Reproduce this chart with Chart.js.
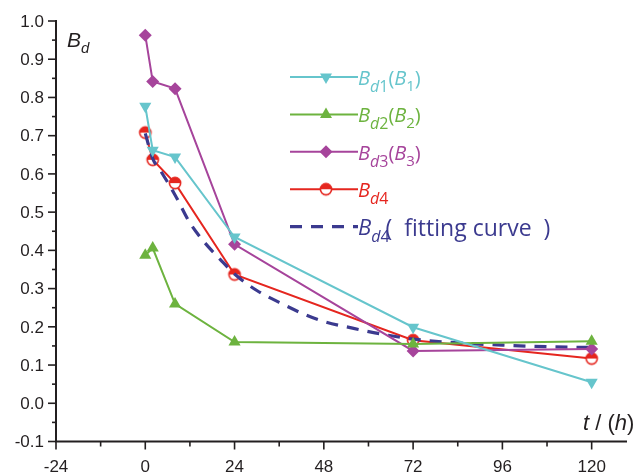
<!DOCTYPE html>
<html>
<head>
<meta charset="utf-8">
<script src="https://cdn.jsdelivr.net/npm/chart.js@4/dist/chart.umd.min.js"></script>
<style>
  html, body { margin: 0; padding: 0; background: #fff; }
  canvas { display: block; }
</style>
</head>
<body>
<canvas id="bdChart" width="638" height="473"></canvas>
<script>
const hours = [0, 2, 8, 24, 72, 120];
const bd1 = [0.777, 0.662, 0.644, 0.435, 0.199, 0.055];
const bd2 = [0.387, 0.406, 0.26, 0.16, 0.155, 0.162];
const bd3 = [0.963, 0.842, 0.823, 0.416, 0.137, 0.142];
const bd4 = [0.708, 0.637, 0.576, 0.337, 0.165, 0.117];

// fitting curve for Bd4
const fitHours = [0, 2, 4, 8, 12, 16, 20, 24, 30, 36, 42, 48, 56, 64, 72, 84, 96, 108, 120];
const fitValues = [0.706, 0.64, 0.61, 0.545, 0.472, 0.42, 0.378, 0.338, 0.295, 0.264, 0.236,
  0.214, 0.196, 0.18, 0.168, 0.158, 0.152, 0.148, 0.146];

const xTicks = [-24, 0, 24, 48, 72, 96, 120];
const yTicks = [-0.1, 0.0, 0.1, 0.2, 0.3, 0.4, 0.5, 0.6, 0.7, 0.8, 0.9, 1.0];

const cyan = "#66c5cc";
const green = "#6db33f";
const magenta = "#a6449b";
const red = "#e5261f";
const navy = "#3b3a8f";
const ink = "#231f20";

function pts(xs, ys) {
  return xs.map((x, i) => ({ x: x, y: ys[i] }));
}

// half filled circle used for Bd4
function halfCircle(r, color) {
  const c = document.createElement("canvas");
  c.width = c.height = Math.ceil(r * 2 + 4);
  const g = c.getContext("2d");
  const m = c.width / 2;
  g.fillStyle = "#fff";
  g.beginPath(); g.arc(m, m, r, 0, Math.PI * 2); g.fill();
  g.fillStyle = color;
  g.beginPath(); g.arc(m, m, r, Math.PI, Math.PI * 2); g.closePath(); g.fill();
  g.strokeStyle = color; g.lineWidth = 1.6;
  g.beginPath(); g.arc(m, m, r, 0, Math.PI * 2); g.stroke();
  return c;
}
const redMarker = halfCircle(5.6, red);

function drawMarker(ctx, kind, x, y, color) {
  ctx.save();
  ctx.fillStyle = color;
  ctx.beginPath();
  if (kind === "down") {
    ctx.moveTo(x - 6, y - 3.5); ctx.lineTo(x + 6, y - 3.5); ctx.lineTo(x, y + 7);
  } else if (kind === "up") {
    ctx.moveTo(x - 6, y + 3.5); ctx.lineTo(x + 6, y + 3.5); ctx.lineTo(x, y - 7);
  } else if (kind === "diamond") {
    ctx.moveTo(x - 6.5, y); ctx.lineTo(x, y - 6.5); ctx.lineTo(x + 6.5, y); ctx.lineTo(x, y + 6.5);
  }
  ctx.closePath();
  ctx.fill();
  if (kind === "half") ctx.drawImage(redMarker, x - redMarker.width / 2, y - redMarker.height / 2);
  ctx.restore();
}

// draws text made of pieces (italic / subscript)
function richText(ctx, parts, x, y, color) {
  ctx.save();
  ctx.fillStyle = color;
  ctx.textBaseline = "alphabetic";
  ctx.textAlign = "left";
  parts.forEach(p => {
    ctx.font = (p.it ? "italic " : "") + p.size + "px " + p.family;
    if (p.dx) x += p.dx;
    ctx.fillText(p.t, x, y + (p.dy || 0));
    x += ctx.measureText(p.t).width;
  });
  ctx.restore();
}

const LF = "'Open Sans'";
function legendParts(n, second, big) {
  const s = big ? 22 : 20;
  const parts = [
    { t: "B", it: true, size: s, family: LF },
    { t: "d", it: true, size: 16, family: LF, dy: 7 },
    { t: n, size: 16, family: LF, dy: 7 }
  ];
  if (second) {
    parts.push({ t: "(", size: s, family: LF });
    parts.push({ t: "B", it: true, size: s, family: LF });
    parts.push({ t: n, size: 15, family: LF, dy: 6 });
    parts.push({ t: ")", size: s, family: LF });
  }
  return parts;
}

const axisPlugin = {
  id: "axes",
  afterDraw(chart) {
    const { ctx, chartArea: a, scales } = chart;
    const sx = scales.x, sy = scales.y;
    ctx.save();
    ctx.strokeStyle = ink;
    ctx.lineWidth = 2;
    ctx.beginPath();
    ctx.moveTo(a.left, a.top - 1); ctx.lineTo(a.left, a.bottom);
    ctx.lineTo(a.right, a.bottom);
    ctx.stroke();

    ctx.lineWidth = 1.6;
    ctx.fillStyle = ink;
    ctx.font = "17px 'Liberation Sans'";
    ctx.textAlign = "right";
    ctx.textBaseline = "middle";
    yTicks.forEach((v, i) => {
      const py = sy.getPixelForValue(v);
      ctx.beginPath(); ctx.moveTo(a.left - 8, py); ctx.lineTo(a.left, py); ctx.stroke();
      ctx.fillText(v.toFixed(1), a.left - 12, py + 1);
      if (i < yTicks.length - 1) {
        const pm = sy.getPixelForValue(v + 0.05);
        ctx.beginPath(); ctx.moveTo(a.left - 4, pm); ctx.lineTo(a.left, pm); ctx.stroke();
      }
    });

    ctx.textAlign = "center";
    ctx.textBaseline = "alphabetic";
    xTicks.forEach(v => {
      const px = sx.getPixelForValue(v);
      ctx.beginPath(); ctx.moveTo(px, a.bottom); ctx.lineTo(px, a.bottom + 8); ctx.stroke();
      ctx.fillText(String(v), px, 471.5);
      const pm = sx.getPixelForValue(v + 12);
      if (pm < a.right) {
        ctx.beginPath(); ctx.moveTo(pm, a.bottom); ctx.lineTo(pm, a.bottom + 5); ctx.stroke();
      }
    });
    ctx.restore();

    // axis titles
    richText(ctx, [
      { t: "B", it: true, size: 21, family: "'Liberation Sans'" },
      { t: "d", it: true, size: 15, family: "'Liberation Sans'", dy: 6 }
    ], 67, 47, ink);
    richText(ctx, [
      { t: "t", it: true, size: 22, family: "'Liberation Sans'" },
      { t: " / (", size: 22, family: "'Liberation Sans'" },
      { t: "h", it: true, size: 22, family: "'Liberation Sans'" },
      { t: ")", size: 22, family: "'Liberation Sans'" }
    ], 583, 430, ink);

    // legend
    const rows = [
      { color: cyan, marker: "down", parts: legendParts("1", true) },
      { color: green, marker: "up", parts: legendParts("2", true) },
      { color: magenta, marker: "diamond", parts: legendParts("3", true) },
      { color: red, marker: "half", parts: legendParts("4", false) },
      { color: navy, marker: null, dashed: true, parts: legendParts("4", false, true).concat([
        { t: "(  fitting curve  )", size: 23, family: LF, dx: -4, dy: 1 }
      ]) }
    ];
    rows.forEach((r, i) => {
      const ly = 77 + i * 37.4;
      ctx.save();
      ctx.strokeStyle = r.color;
      ctx.lineWidth = r.dashed ? 3.2 : 2;
      ctx.setLineDash(r.dashed ? [12, 9] : []);
      ctx.beginPath(); ctx.moveTo(290, ly); ctx.lineTo(358, ly); ctx.stroke();
      ctx.restore();
      if (r.marker) drawMarker(ctx, r.marker, 326, ly, r.color);
      richText(ctx, r.parts, 358, ly + 8, r.color);
    });
  }
};

const ctx = document.getElementById("bdChart").getContext("2d");
new Chart(ctx, {
  type: "line",
  data: {
    datasets: [
      {
        label: "Bd1(B1)",
        data: pts(hours, bd1),
        borderColor: cyan,
        backgroundColor: cyan,
        borderWidth: 2,
        pointStyle: "triangle",
        rotation: 180,
        pointRadius: 7,
        pointBorderWidth: 0,
      },
      {
        label: "Bd2(B2)",
        data: pts(hours, bd2),
        borderColor: green,
        backgroundColor: green,
        borderWidth: 2,
        pointStyle: "triangle",
        pointRadius: 7,
        pointBorderWidth: 0,
      },
      {
        label: "Bd3(B3)",
        data: pts(hours, bd3),
        borderColor: magenta,
        backgroundColor: magenta,
        borderWidth: 2,
        pointStyle: "rectRot",
        pointRadius: 6.5,
        pointBorderWidth: 0,
      },
      {
        label: "Bd4 (fitting curve)",
        data: pts(fitHours, fitValues),
        borderColor: navy,
        borderWidth: 3.2,
        borderDash: [12, 9],
        pointRadius: 0,
        cubicInterpolationMode: "monotone",
      },
      {
        label: "Bd4",
        data: pts(hours, bd4),
        borderColor: red,
        backgroundColor: red,
        borderWidth: 2,
        pointStyle: redMarker,
        pointRadius: 6,
      },
    ],
  },
  options: {
    responsive: false,
    animation: false,
    devicePixelRatio: 1,
    layout: { padding: { left: 56, right: 11, top: 21, bottom: 31.5 } },
    scales: {
      x: { type: "linear", min: -24, max: 129.5, display: false },
      y: { min: -0.1, max: 1.0, display: false },
    },
    plugins: {
      legend: { display: false },
      tooltip: { enabled: false },
    },
  },
  plugins: [axisPlugin],
});
</script>
</body>
</html>
